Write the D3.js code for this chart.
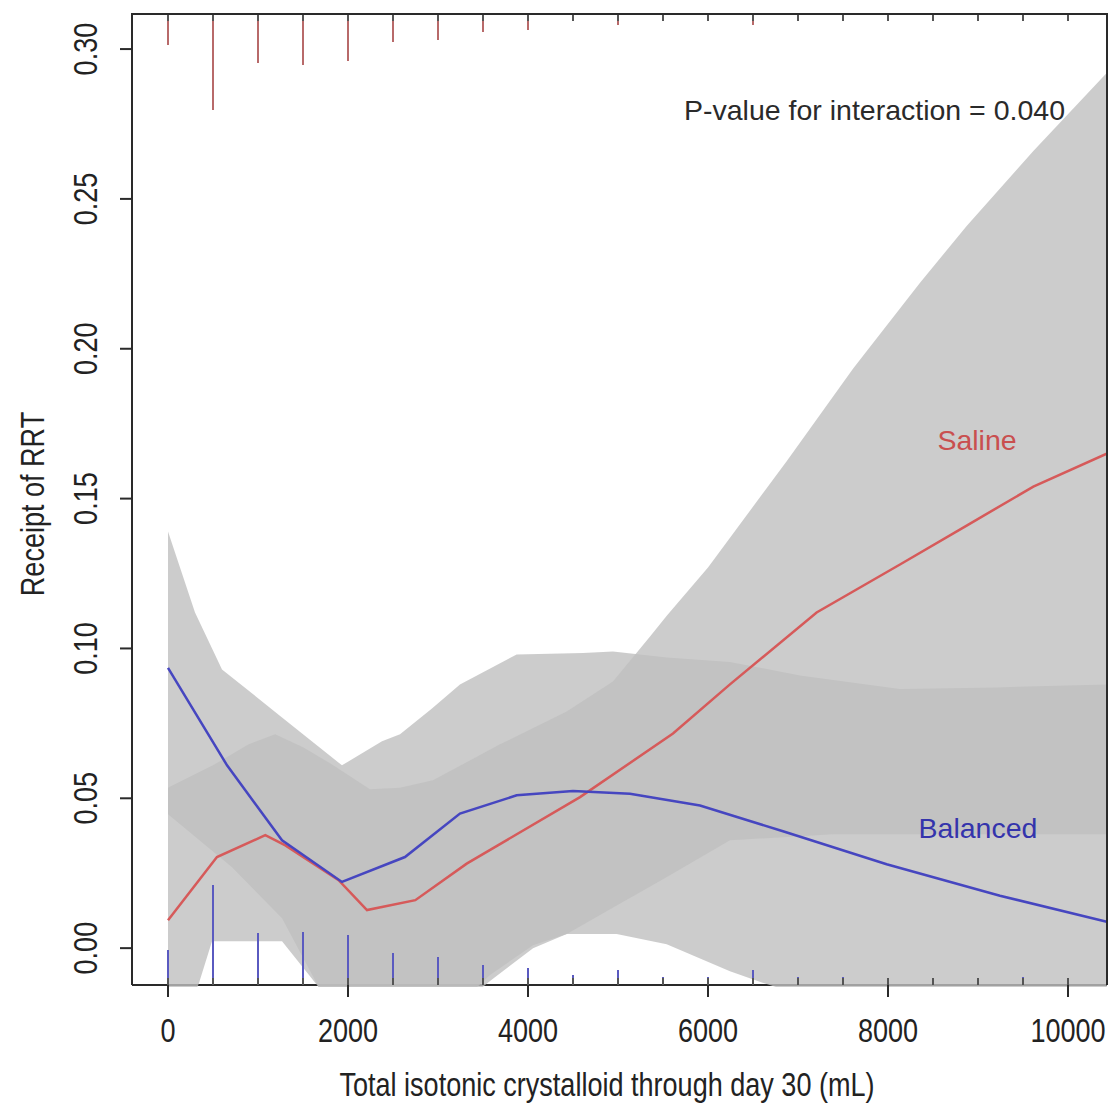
<!DOCTYPE html>
<html>
<head>
<meta charset="utf-8">
<script src="https://cdn.jsdelivr.net/npm/d3@7/dist/d3.min.js"></script>
<style>
  body { margin: 0; background: #fff; }
  svg text { font-family: "Liberation Sans", Arial, sans-serif; }
</style>
</head>
<body>
<script>
// ---- data ----
var xTicks = [0, 2000, 4000, 6000, 8000, 10000];
var yTicks = [0.00, 0.05, 0.10, 0.15, 0.20, 0.25, 0.30];

// fitted lines
var balancedX = [0, 656, 1267, 1933, 2633, 3244, 3874, 4500, 5133, 5911, 6833, 7985, 9244, 10430];
var balancedY = [0.0935, 0.061, 0.036, 0.0221, 0.0304, 0.0449, 0.051, 0.0524, 0.0515, 0.0476, 0.039, 0.028, 0.0175, 0.0088];
var salineX = [0, 544, 1081, 1304, 1896, 2211, 2748, 3319, 4578, 5611, 6244, 7207, 8133, 8874, 9615, 10430];
var salineY = [0.0093, 0.0304, 0.0377, 0.0343, 0.0227, 0.0127, 0.016, 0.0282, 0.0504, 0.0716, 0.088, 0.112, 0.128, 0.141, 0.154, 0.165];

// confidence bands
var balUpX = [0, 300, 600, 1267, 1933, 2378, 2578, 2933, 3244, 3874, 4611, 4944, 5544, 6244, 7022, 8133, 9200, 10430];
var balUpY = [0.139, 0.112, 0.093, 0.077, 0.061, 0.069, 0.0714, 0.080, 0.088, 0.098, 0.0985, 0.099, 0.097, 0.0955, 0.091, 0.0865, 0.087, 0.088];
var balLoX = [0, 711, 1267, 1674, 2200, 3000, 3578, 4056, 4430, 4985, 5541, 6244, 6652, 7500, 10430];
var balLoY = [0.0447, 0.027, 0.010, -0.013, -0.03, -0.025, -0.009, 0.001, 0.0047, 0.0047, 0.0013, -0.0077, -0.012, -0.02, -0.035];
var salUpX = [0, 500, 897, 1190, 1500, 1822, 2244, 2578, 2944, 3689, 4430, 4944, 5356, 5544, 6000, 6874, 7615, 8356, 8874, 9615, 10430];
var salUpY = [0.0535, 0.061, 0.068, 0.0714, 0.067, 0.0613, 0.053, 0.0535, 0.056, 0.068, 0.079, 0.089, 0.104, 0.111, 0.127, 0.1625, 0.1935, 0.222, 0.241, 0.266, 0.292];
var salLoX = [0, 341, 489, 1267, 1674, 2200, 3000, 3578, 4056, 4430, 5000, 5500, 6244, 7389, 10430];
var salLoY = [-0.035, -0.012, 0.0023, 0.0023, -0.013, -0.03, -0.025, -0.011, 0.0, 0.0047, 0.0145, 0.023, 0.036, 0.038, 0.038];

// rug (relative counts per 500 mL bin)
var rugX = [0, 500, 1000, 1500, 2000, 2500, 3000, 3500, 4000, 4500, 5000, 5500, 6000, 6500, 7000, 7500, 8000, 8500, 9000, 9500, 10000];
var rugSaline = [31, 96, 49, 51, 47, 28, 26, 18, 16, 7, 11, 7, 7, 11, 7, 7, 2, 1, 3, 4, 2];
var rugBalanced = [35, 100, 52, 53, 50, 32, 28, 20, 17, 10, 15, 8, 8, 15, 8, 8, 3, 1, 5, 8, 3];

// ---- layout ----
var W = 1117, H = 1105;
var pLeft = 132, pRight = 1107, pTop = 14, pBottom = 985;

var x = d3.scaleLinear().domain([-400, 10433.3]).range([pLeft, pRight]);
var y = d3.scaleLinear().domain([-0.0123, 0.3117]).range([pBottom, pTop]);
var rugLen = d3.scaleLinear().domain([0, 100]).range([0, 100]);

var svg = d3.select('body').append('svg')
    .attr('width', W)
    .attr('height', H);

svg.append('defs').append('clipPath')
    .attr('id', 'plotclip')
    .append('rect')
    .attr('x', pLeft).attr('y', pTop)
    .attr('width', pRight - pLeft).attr('height', pBottom - pTop + 2);

// bottom frame line goes under the bands
svg.append('line')
    .attr('x1', pLeft).attr('x2', pRight)
    .attr('y1', pBottom).attr('y2', pBottom)
    .attr('stroke', '#2a2a2a').attr('stroke-width', 2);

var zip = function (xs, ys) {
    return xs.map(function (d, i) { return [d, ys[i]]; });
};

var band = function (upX, upY, loX, loY) {
    return zip(upX, upY).concat(zip(loX, loY).reverse());
};

var poly = d3.line()
    .x(function (d) { return x(d[0]); })
    .y(function (d) { return y(d[1]); })
    .curve(d3.curveLinearClosed);

var plotG = svg.append('g').attr('clip-path', 'url(#plotclip)');

[band(balUpX, balUpY, balLoX, balLoY), band(salUpX, salUpY, salLoX, salLoY)].forEach(function (pts) {
    plotG.append('path')
        .attr('d', poly(pts))
        .attr('fill', '#bfbfbf')
        .attr('fill-opacity', 0.8)
        .attr('stroke', 'none');
});

// rugs
plotG.selectAll('.rug-top')
    .data(rugX)
    .enter()
    .append('line')
    .attr('x1', function (d) { return x(d); })
    .attr('x2', function (d) { return x(d); })
    .attr('y1', pTop)
    .attr('y2', function (d, i) { return pTop + rugLen(rugSaline[i]); })
    .attr('stroke', '#b86a6a')
    .attr('stroke-width', 2);

plotG.selectAll('.rug-bottom')
    .data(rugX)
    .enter()
    .append('line')
    .attr('x1', function (d) { return x(d); })
    .attr('x2', function (d) { return x(d); })
    .attr('y1', pBottom)
    .attr('y2', function (d, i) { return pBottom - rugLen(rugBalanced[i]); })
    .attr('stroke', '#5a5ac0')
    .attr('stroke-width', 2);

// short dark marks inside the frame
[pTop, pBottom].forEach(function (yy) {
    var dir = yy === pTop ? 1 : -1;
    plotG.selectAll(null)
        .data(rugX)
        .enter()
        .append('line')
        .attr('x1', function (d) { return x(d); })
        .attr('x2', function (d) { return x(d); })
        .attr('y1', yy)
        .attr('y2', yy + dir * 7)
        .attr('stroke', '#555')
        .attr('stroke-width', 2);
});

// fitted lines
var line = d3.line()
    .x(function (d) { return x(d[0]); })
    .y(function (d) { return y(d[1]); });

plotG.append('path')
    .attr('d', line(zip(salineX, salineY)))
    .attr('fill', 'none')
    .attr('stroke', '#d65a5a')
    .attr('stroke-width', 2.5);

plotG.append('path')
    .attr('d', line(zip(balancedX, balancedY)))
    .attr('fill', 'none')
    .attr('stroke', '#4646c0')
    .attr('stroke-width', 2.5);

// remaining frame
svg.append('path')
    .attr('d', 'M' + pLeft + ',' + pBottom + 'V' + pTop + 'H' + pRight + 'V' + pBottom)
    .attr('fill', 'none')
    .attr('stroke', '#2a2a2a')
    .attr('stroke-width', 2);

// axes (R style, condensed text)
var narrow = 0.82;
var axisFont = 33;

var xAxis = svg.append('g');
xTicks.forEach(function (t) {
    xAxis.append('line')
        .attr('x1', x(t)).attr('x2', x(t))
        .attr('y1', pBottom).attr('y2', pBottom + 12)
        .attr('stroke', '#2a2a2a').attr('stroke-width', 2);
    xAxis.append('text')
        .attr('transform', 'translate(' + x(t) + ',1042) scale(' + narrow + ',1)')
        .attr('text-anchor', 'middle')
        .attr('font-size', axisFont)
        .attr('fill', '#222')
        .text(d3.format('d')(t));
});

var yAxis = svg.append('g');
yTicks.forEach(function (t) {
    yAxis.append('line')
        .attr('x1', pLeft - 12).attr('x2', pLeft)
        .attr('y1', y(t)).attr('y2', y(t))
        .attr('stroke', '#2a2a2a').attr('stroke-width', 2);
    yAxis.append('text')
        .attr('transform', 'translate(97,' + y(t) + ') rotate(-90) scale(' + narrow + ',1)')
        .attr('text-anchor', 'middle')
        .attr('font-size', axisFont)
        .attr('fill', '#222')
        .text(d3.format('.2f')(t));
});

svg.append('text')
    .attr('transform', 'translate(607,1096) scale(' + narrow + ',1)')
    .attr('text-anchor', 'middle')
    .attr('font-size', axisFont)
    .attr('fill', '#222')
    .text('Total isotonic crystalloid through day 30 (mL)');

svg.append('text')
    .attr('transform', 'translate(44,504) rotate(-90) scale(' + narrow + ',1)')
    .attr('text-anchor', 'middle')
    .attr('font-size', axisFont)
    .attr('fill', '#222')
    .text('Receipt of RRT');

// annotations
svg.append('text')
    .attr('x', 1065).attr('y', 120)
    .attr('text-anchor', 'end')
    .attr('font-size', 28.5)
    .attr('fill', '#2a2a2a')
    .text('P-value for interaction = 0.040');

svg.append('text')
    .attr('x', 977).attr('y', 450)
    .attr('text-anchor', 'middle')
    .attr('font-size', 28.5)
    .attr('fill', '#c94f4f')
    .text('Saline');

svg.append('text')
    .attr('x', 978).attr('y', 838)
    .attr('text-anchor', 'middle')
    .attr('font-size', 28.5)
    .attr('fill', '#3434ac')
    .text('Balanced');
</script>
</body>
</html>
